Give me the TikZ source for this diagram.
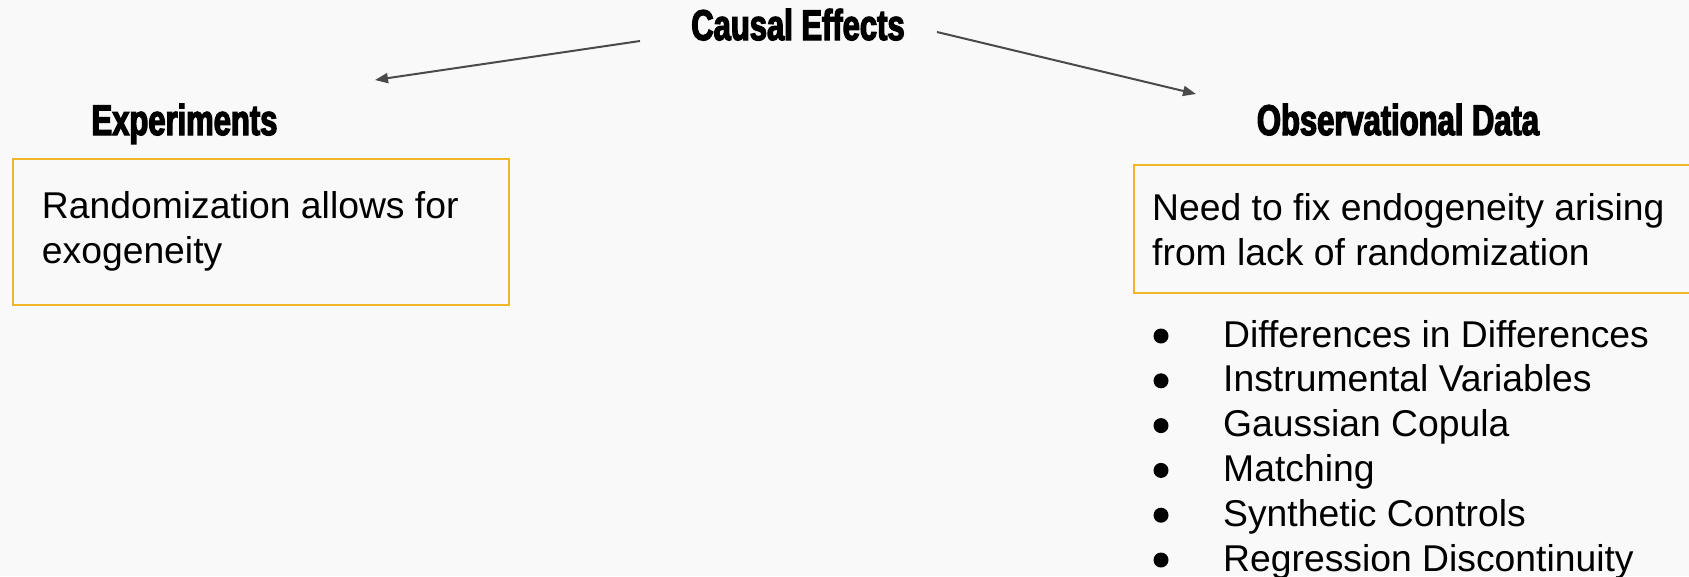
\documentclass[tikz,border=0pt]{standalone}
\usepackage{fontspec}
\setmainfont{Liberation Sans}
\newfontfamily\headfont{Liberation Sans}[FakeStretch=0.72,FakeBold=3]
\usetikzlibrary{arrows.meta}
\definecolor{bg}{HTML}{F9F9F9}
\definecolor{amber}{HTML}{F1B525}
\definecolor{arrowgray}{HTML}{4A4A4A}
\tikzset{
  head/.style={inner sep=0, anchor=base, font=\headfont\bfseries\fontsize{43}{48}\selectfont},
  body/.style={inner sep=0, anchor=base west, font=\fontsize{37.3}{45}\selectfont},
  boxframe/.style={draw=amber, line width=2pt},
  conn/.style={draw=arrowgray, line width=2pt, -{Triangle[length=13pt,width=10pt]}},
  dot/.style={circle, fill=black, inner sep=0, minimum size=15pt}
}
\begin{document}
\begin{tikzpicture}[x=1pt,y=-1pt]
\useasboundingbox (0,0) rectangle (1689,576);
\fill[bg] (0,0) rectangle (1689,576);
\begin{scope}
\clip (0,0) rectangle (1689,576);
% headings
\node[head] (causal) at (798,40) {Causal Effects};
\node[head] (exper) at (184.5,135) {Experiments};
\node[head] (obs) at (1398,135) {Observational Data};
% arrows
\coordinate (lstart) at (640,41);
\coordinate (lend) at (375,80);
\coordinate (rstart) at (937,32);
\coordinate (rend) at (1196,94);
\draw[conn] (lstart) -- (lend);
\draw[conn] (rstart) -- (rend);
% left box
\node[boxframe, inner sep=0, minimum width=496pt, minimum height=146pt, anchor=north west] (lbox) at (12,158) {};
\node[body] (lt1) at (41.7,218) {Randomization allows for};
\node[body] (lt2) at (41.7,263) {exogeneity};
% right box
\node[boxframe, inner sep=0, minimum width=600pt, minimum height=128pt, anchor=north west] (rbox) at (1133,164) {};
\node[body] (rt1) at (1152,220) {Need to fix endogeneity arising};
\node[body] (rt2) at (1152,265) {from lack of randomization};
% bullets
\foreach \i/\t in {0/Differences in Differences,1/Instrumental Variables,2/Gaussian Copula,3/Matching,4/Synthetic Controls,5/Regression Discontinuity}{
  \node[dot] (b\i) at (1161,{347+44.8*\i-11}) {};
  \node[body] (item\i) at (1223,{347+44.8*\i}) {\t};
}
\end{scope}
\end{tikzpicture}
\end{document}
